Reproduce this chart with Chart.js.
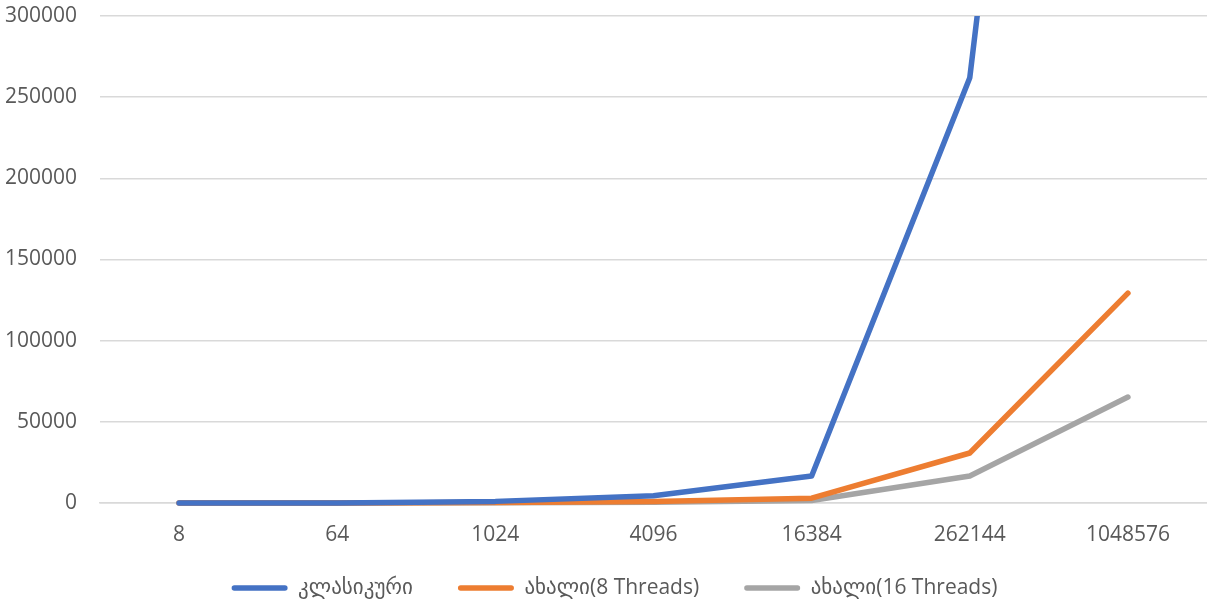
<!DOCTYPE html>
<html>
<head>
<meta charset="utf-8">
<script src="https://cdn.jsdelivr.net/npm/chart.js@4"></script>
<style>
html,body{margin:0;padding:0;background:#fff;}
#wrap{width:1207px;height:610px;}
</style>
</head>
<body>
<div id="wrap"><canvas id="c" width="1207" height="610"></canvas></div>
<script>
const categories = ['8', '64', '1024', '4096', '16384', '262144', '1048576'];
const seriesNames = ['კლასიკური', 'ახალი(8 Threads)', 'ახალი(16 Threads)'];
const classicValues = [10, 70, 1000, 4500, 16600, 262000, 1075000];
const threads8Values = [5, 30, 300, 1000, 3000, 30800, 129300];
const threads16Values = [5, 25, 200, 500, 1500, 16600, 65300];
const yTicks = [0, 50000, 100000, 150000, 200000, 250000, 300000];
const colors = ['#4472C4', '#ED7D31', '#A5A5A5'];

const FONT = "'Open Sans', 'DejaVu Sans', sans-serif";
const seriesValues = [classicValues, threads8Values, threads16Values];
const LEGEND_PAD = 45;
const LEGEND_FONT = 21;
const LEGEND_CENTER_Y = 588;
const LEGEND_SHIFT_X = 8.5;

const legendShift = {
  id: 'legendShift',
  beforeDraw(chart) {
    const lg = chart.legend;
    if (lg) {
      lg.top = LEGEND_CENTER_Y - LEGEND_PAD - LEGEND_FONT / 2;
      if (!lg._shifted) { lg.left += LEGEND_SHIFT_X; lg.right += LEGEND_SHIFT_X; lg._shifted = true; }
    }
  }
};

new Chart(document.getElementById('c'), {
  type: 'line',
  data: {
    labels: categories,
    datasets: seriesValues.map((vals, i) => ({
      label: seriesNames[i],
      data: vals,
      borderColor: colors[i],
      backgroundColor: colors[i],
      borderWidth: 5.5,
      pointRadius: 0,
      pointHoverRadius: 0,
      tension: 0,
      borderJoinStyle: 'round',
      borderCapStyle: 'round',
      clip: {left: false, top: 0, right: false, bottom: false},
      order: i
    }))
  },
  plugins: [legendShift],
  options: {
    responsive: false,
    animation: false,
    layout: {padding: {top: 16, left: 5, right: 0, bottom: 2}},
    scales: {
      x: {
        offset: true,
        grid: {display: false, drawTicks: false},
        border: {display: true, color: '#D9D9D9', width: 1.5},
        ticks: {color: '#595959', font: {family: FONT, size: 21}, padding: 19, maxRotation: 0},
        afterFit: (axis) => { axis.height = 45; axis.paddingLeft = 0; axis.paddingRight = 0; }
      },
      y: {
        min: yTicks[0],
        max: yTicks[yTicks.length - 1],
        afterBuildTicks: (axis) => { axis.ticks = yTicks.map(v => ({value: v})); },
        grid: {color: '#D9D9D9', lineWidth: 1.5, drawTicks: false},
        border: {display: false},
        ticks: {color: '#595959', font: {family: FONT, size: 21}, padding: 23, callback: v => String(v)},
        afterFit: (axis) => { axis.width = 95; axis.paddingTop = 0; axis.paddingBottom = 0; }
      }
    },
    plugins: {
      tooltip: {enabled: false},
      legend: {
        position: 'bottom',
        maxHeight: 60,
        labels: {
          color: '#595959',
          font: {family: FONT, size: LEGEND_FONT},
          boxWidth: 56,
          boxHeight: 5.5,
          useBorderRadius: true,
          borderRadius: 2.75,
          padding: LEGEND_PAD,
          generateLabels: (chart) => {
            const items = Chart.defaults.plugins.legend.labels.generateLabels(chart);
            items.forEach(it => { it.fillStyle = it.strokeStyle; it.lineWidth = 0; });
            return items;
          }
        }
      }
    }
  }
});
</script>
</body>
</html>
